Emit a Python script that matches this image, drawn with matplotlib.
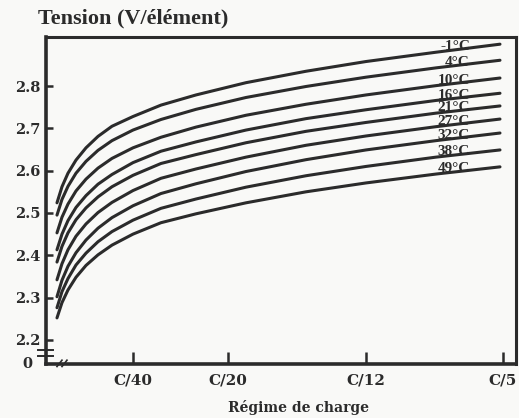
import numpy as np
import matplotlib
matplotlib.use("Agg")
import matplotlib.pyplot as plt
import matplotlib.transforms as mtransforms

# Charge-rate axis: positions of the curve samples along the horizontal axis
rate_pos = [11, 16, 22, 30, 40, 52, 66, 87, 115, 150, 200, 260, 320, 390, 454]
tick_pos = [87, 182, 320, 457]
tick_labels = ["C/40", "C/20", "C/12", "C/5"]

temperatures = ["-1°C", "4°C", "10°C", "16°C", "21°C", "27°C", "32°C", "38°C", "49°C"]

v_m1 = [2.524, 2.562, 2.594, 2.625, 2.654, 2.681, 2.705, 2.728, 2.755, 2.779,
        2.808, 2.835, 2.858, 2.880, 2.899]
v_4 = [2.495, 2.532, 2.563, 2.594, 2.622, 2.648, 2.671, 2.696, 2.721, 2.745,
       2.773, 2.799, 2.821, 2.843, 2.861]
v_10 = [2.453, 2.490, 2.521, 2.552, 2.580, 2.606, 2.629, 2.654, 2.679, 2.703,
        2.731, 2.757, 2.779, 2.801, 2.819]
v_16 = [2.413, 2.450, 2.482, 2.513, 2.541, 2.568, 2.591, 2.619, 2.646, 2.668,
        2.696, 2.723, 2.744, 2.766, 2.783]
v_21 = [2.384, 2.421, 2.453, 2.484, 2.512, 2.538, 2.562, 2.589, 2.617, 2.638,
        2.666, 2.693, 2.714, 2.736, 2.753]
v_27 = [2.342, 2.380, 2.413, 2.445, 2.474, 2.501, 2.525, 2.553, 2.582, 2.604,
        2.632, 2.660, 2.682, 2.704, 2.722]
v_32 = [2.302, 2.341, 2.374, 2.406, 2.436, 2.464, 2.489, 2.517, 2.546, 2.569,
        2.598, 2.626, 2.649, 2.671, 2.689]
v_38 = [2.276, 2.314, 2.345, 2.377, 2.405, 2.432, 2.456, 2.483, 2.511, 2.533,
        2.561, 2.588, 2.610, 2.632, 2.649]
v_49 = [2.252, 2.288, 2.318, 2.348, 2.376, 2.401, 2.424, 2.450, 2.477, 2.498,
        2.524, 2.550, 2.571, 2.592, 2.609]

series = [v_m1, v_4, v_10, v_16, v_21, v_27, v_32, v_38, v_49]

y_ticks = [2.2, 2.3, 2.4, 2.5, 2.6, 2.7, 2.8]

ink = "#2b2b2b"
paper = "#f9f9f7"

fig = plt.figure(figsize=(5.19, 4.18), dpi=100, facecolor=paper)
ax = fig.add_axes([0.0886, 0.1292, 0.9056, 0.7823], facecolor=paper)

for vals, name in zip(series, temperatures):
    ax.plot(rate_pos, vals, color=ink, lw=2.2, solid_capstyle="round",
            solid_joinstyle="round")
    ly = np.interp(405, rate_pos, vals)
    ax.annotate(name, (424, ly), xytext=(0, 2.5), textcoords="offset points",
                ha="right", va="center", fontsize=11, fontweight="bold",
                family="Liberation Serif", color=ink)

ax.set_xlim(0, 470)
ax.set_ylim(2.143, 2.916)

ax.set_xticks(tick_pos)
ax.set_xticklabels(tick_labels)
ax.set_yticks(y_ticks)
ax.set_yticklabels([f"{v:.1f}" for v in y_ticks])

ax.tick_params(axis="y", direction="in", length=5, width=1.8, pad=4,
               colors=ink, labelsize=10.5)
ax.tick_params(axis="x", direction="in", length=9, width=1.8, pad=7,
               colors=ink, labelsize=11)
for lab in ax.get_xticklabels() + ax.get_yticklabels():
    lab.set_family("DejaVu Serif")
    lab.set_fontweight("bold")

for side in ["left", "bottom"]:
    ax.spines[side].set_linewidth(2.6)
    ax.spines[side].set_color(ink)
for side in ["top", "right"]:
    ax.spines[side].set_linewidth(2.2)
    ax.spines[side].set_color(ink)

# Zero label and axis break marks
ax.text(-0.03, 0.0, "0", transform=ax.transAxes, ha="right", va="center",
        fontsize=10.5, fontweight="bold", family="DejaVu Serif", color=ink)
ybreak = mtransforms.blended_transform_factory(ax.transAxes, ax.transData)
for yb in (2.175, 2.163):
    ax.plot([-0.018, 0.014], [yb, yb], transform=ybreak, color=ink, lw=1.4,
            clip_on=False)
for xb in (13, 18):
    ax.plot([xb - 2, xb + 3], [2.137, 2.152], color=ink, lw=1.2, clip_on=False)

fig.text(0.073, 0.955, "Tension (V/élément)", ha="left", va="center",
         fontsize=16, fontweight="bold", family="Liberation Serif", color=ink)
fig.text(0.576, 0.026, "Régime de charge", ha="center", va="center",
         fontsize=10, fontweight="bold", family="DejaVu Serif", color=ink)

fig.savefig("out.png", dpi=100, facecolor=paper)
